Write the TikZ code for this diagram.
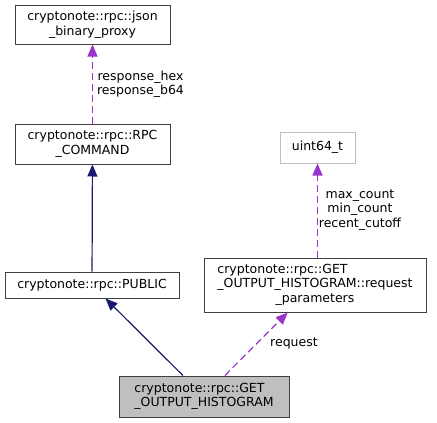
\documentclass[tikz,border=0pt]{standalone}
\usepackage{fontspec}
\setmainfont{DejaVu Sans}
\usetikzlibrary{arrows.meta}
\definecolor{edgepurple}{RGB}{154,50,205}
\definecolor{edgenavy}{RGB}{25,25,112}
\definecolor{boxgray}{RGB}{191,191,191}

\begin{document}
\begin{tikzpicture}[x=1pt, y=-1pt, font=\fontsize{12.5}{14.5}\selectfont]
\tikzstyle{cls}=[rectangle, draw=black!75, fill=white, line width=1pt, inner sep=0pt, align=center]
\tikzstyle{usage}=[draw=edgepurple, line width=1.2pt, dash pattern=on 7pt off 4pt, -{Triangle[length=12pt, width=10pt]}]
\tikzstyle{inherit}=[draw=edgenavy, line width=1.2pt, -{Triangle[length=12pt, width=10pt]}]
\tikzstyle{lbl}=[inner sep=0pt, align=center]
\useasboundingbox (0,0) rectangle (437,423);
\node[cls, minimum width=155pt, minimum height=39pt] (JSON) at (92.5,24.5) {cryptonote::rpc::json\\\_binary\_proxy};
\node[cls, minimum width=155pt, minimum height=40pt] (RPC) at (92.5,144) {cryptonote::rpc::RPC\\\_COMMAND};
\node[cls, minimum width=174pt, minimum height=26pt] (PUB) at (92,285) {cryptonote::rpc::PUBLIC};
\node[cls, draw=boxgray, minimum width=75pt, minimum height=31pt] (U64) at (317.5,147.5) {uint64\_t};
\node[cls, minimum width=222pt, minimum height=54pt] (REQP) at (315,285)
  {\begin{tabular}{@{}l@{}}cryptonote::rpc::GET\\\_OUTPUT\_HISTOGRAM::request\\\multicolumn{1}{@{}c@{}}{\_parameters}\end{tabular}};
\node[cls, fill=boxgray, align=left, minimum width=170pt, minimum height=41pt] (HIST) at (204,396.5) {cryptonote::rpc::GET\\\_OUTPUT\_HISTOGRAM};
\node[lbl] (L1) at (140.5,84) {response\_hex\\response\_b64};
\node[lbl] (L2) at (360,210) {max\_count\\min\_count\\recent\_cutoff};
\node[lbl] (L3) at (294,343) {request};
\path (RPC) edge[usage] (JSON)
      (PUB) edge[inherit] (RPC)
      (HIST) edge[inherit] (PUB)
             edge[usage] (REQP)
      (REQP.north -| U64.south) edge[usage] (U64.south);

\end{tikzpicture}
\end{document}
